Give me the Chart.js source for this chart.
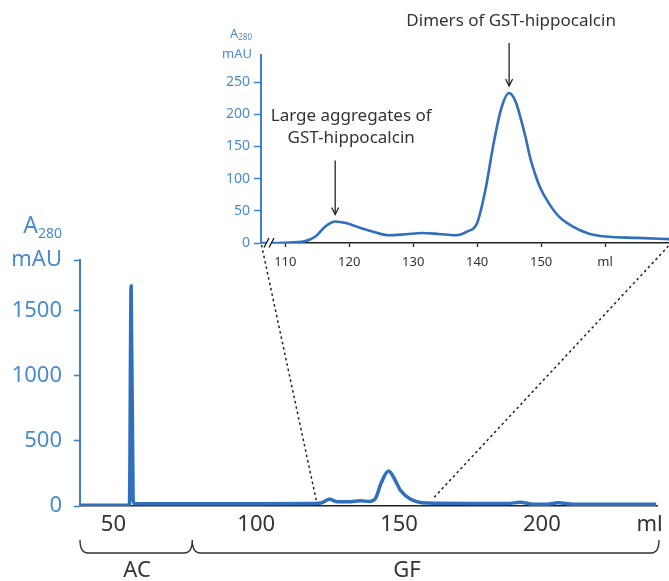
<!DOCTYPE html>
<html>
<head>
<meta charset="utf-8">
<script src="https://cdn.jsdelivr.net/npm/chart.js@4.4.1/dist/chart.umd.min.js"></script>
<style>
  html, body { margin: 0; padding: 0; background: #fff; }
  #wrap { position: relative; width: 669px; height: 581px; }
  #wrap canvas { position: absolute; }
</style>
</head>
<body>
<div id="wrap">
  <canvas id="mainChart" width="669" height="581" style="left:0;top:0"></canvas>
  <canvas id="insetChart" width="469" height="275" style="left:200px;top:0"></canvas>
</div>
<script>
// main chromatogram (AC + GF), ml vs mAU
var mainVolume = [38.3, 55.6, 56.2, 56.9, 57.6, 62, 80, 100, 120, 123, 125.6, 128.5, 133, 136.4, 139.8, 141.8, 143.8, 146.3, 148.6, 150.4, 153.9, 159.7, 175, 188, 192.4, 197, 202, 205.7, 211, 240];
var mainA280 = [5, 5, 1690, 40, 18, 18, 18, 18, 20, 25, 51, 33, 33, 40, 35, 60, 180, 268, 200, 123, 54, 23, 20, 20, 28, 13, 14, 25, 13, 13];
var mainTickValues = [50, 100, 150, 200, 237.7];
var mainTickLabels = ['50', '100', '150', '200', 'ml'];
var mainYTicks = [0, 500, 1000, 1500, 1890];

// inset: zoom on the GF peaks
var insetVolume = [106.2, 110, 113, 114.7, 116.3, 117.8, 119.5, 121, 123.6, 126.2, 128.8, 131.4, 134, 136.6, 138.5, 140, 141.3, 142.6, 143.8, 145, 146.0, 146.8, 147.6, 148.3, 149.1, 149.9, 151.2, 152.8, 154.9, 157.5, 160.1, 165, 170];
var insetA280 = [0, 0.5, 2.5, 10, 26, 33.5, 31, 26, 18, 12, 13.5, 15.5, 14, 12, 18, 31, 83, 156, 210, 233, 220, 194, 163, 132, 106, 85, 62, 41, 26, 14.5, 10, 8, 6];
var insetTickValues = [110, 120, 130, 140, 150, 160];
var insetTickLabels = ['110', '120', '130', '140', '150', 'ml'];
var insetYTicks = [0, 50, 100, 150, 200, 250];

// zoom window shown on main trace and brackets (ml)
var zoomFrom = 121, zoomTo = 162;
var acRange = [38.3, 77.6];
var gfRange = [77.6, 241];

var lineBlue = '#2f6fbd';
var axisBlue = '#3d80c8';
var textBlue = '#4a8bd0';
var dark = '#333333';
var fontName = "'Noto Sans', sans-serif";

function toPoints(xs, ys) {
    var pts = [];
    for (var i = 0; i < xs.length; i++) {
        pts.push({x: xs[i], y: ys[i]});
    }
    return pts;
}

var insetDecor = {
    id: 'insetDecor',
    afterDraw: function (chart) {
        var ctx = chart.ctx;
        var xs = chart.scales.x, ys = chart.scales.y;
        var area = chart.chartArea;
        ctx.save();
        // axis title
        ctx.fillStyle = textBlue;
        ctx.textAlign = 'right';
        ctx.textBaseline = 'middle';
        ctx.font = '13px ' + fontName;
        ctx.fillText('mAU', 52, 54);
        ctx.font = '8px ' + fontName;
        ctx.fillText('280', 52, 38);
        var w = ctx.measureText('280').width;
        ctx.font = '13px ' + fontName;
        ctx.fillText('A', 52 - w, 34);

        // axis break marks
        var bx = area.left + 5, by = area.bottom;
        ctx.fillStyle = '#fff';
        ctx.beginPath();
        ctx.moveTo(bx - 1, by + 4);
        ctx.lineTo(bx + 3, by - 4);
        ctx.lineTo(bx + 7, by - 4);
        ctx.lineTo(bx + 3, by + 4);
        ctx.closePath();
        ctx.fill();
        ctx.strokeStyle = '#222';
        ctx.lineWidth = 1.4;
        ctx.beginPath();
        ctx.moveTo(bx - 2, by + 4.5);
        ctx.lineTo(bx + 3, by - 5);
        ctx.moveTo(bx + 3, by + 4.5);
        ctx.lineTo(bx + 8, by - 5);
        ctx.stroke();

        // annotations with arrows
        ctx.fillStyle = dark;
        ctx.strokeStyle = '#222';
        ctx.lineWidth = 1.3;
        ctx.textAlign = 'center';
        ctx.font = '17px ' + fontName;
        var notes = [
            {x: 117.8, y: 33.5, len: 54, lines: ['Large aggregates of', 'GST-hippocalcin'], dx: 16},
            {x: 145, y: 233, len: 43, lines: ['Dimers of GST-hippocalcin'], dx: 2}
        ];
        notes.forEach(function (n) {
            var px = xs.getPixelForValue(n.x);
            var tip = ys.getPixelForValue(n.y) - 7;
            var tail = tip - n.len;
            ctx.beginPath();
            ctx.moveTo(px, tail);
            ctx.lineTo(px, tip);
            ctx.stroke();
            ctx.beginPath();
            ctx.moveTo(px - 3.5, tip - 7);
            ctx.lineTo(px, tip);
            ctx.lineTo(px + 3.5, tip - 7);
            ctx.stroke();
            for (var i = 0; i < n.lines.length; i++) {
                var ly = tail - 22 - (n.lines.length - 1 - i) * 22;
                ctx.fillText(n.lines[i], px + n.dx, ly);
            }
        });
        ctx.restore();
    }
};

var insetChart = new Chart(document.getElementById('insetChart'), {
    type: 'line',
    data: {
        datasets: [{
            data: toPoints(insetVolume, insetA280),
            borderColor: lineBlue,
            borderWidth: 2.6,
            pointRadius: 0,
            cubicInterpolationMode: 'monotone',
            fill: false
        }]
    },
    options: {
        responsive: false,
        animation: false,
        layout: {padding: {top: 55, left: 0, right: 0, bottom: 0}},
        plugins: {legend: {display: false}, tooltip: {enabled: false}},
        scales: {
            x: {
                type: 'linear',
                min: 106.2,
                max: 170,
                afterBuildTicks: function (s) {
                    s.ticks = insetTickValues.map(function (v) { return {value: v}; });
                },
                afterFit: function (s) { s.height = 32; },
                border: {color: '#222', width: 1.5},
                grid: {drawOnChartArea: false, tickLength: 4, tickColor: '#222', tickWidth: 1.3},
                ticks: {
                    autoSkip: false,
                    maxRotation: 0,
                    padding: 7,
                    color: dark,
                    font: {family: fontName, size: 13},
                    callback: function (v) {
                        var i = insetTickValues.indexOf(v);
                        return i >= 0 ? insetTickLabels[i] : '';
                    }
                }
            },
            y: {
                min: 0,
                max: 292,
                afterBuildTicks: function (s) {
                    s.ticks = insetYTicks.map(function (v) { return {value: v}; });
                },
                afterFit: function (s) { s.width = 61; },
                border: {color: axisBlue, width: 2},
                grid: {drawOnChartArea: false, tickLength: 7, tickColor: axisBlue, tickWidth: 1.5},
                ticks: {
                    padding: 4,
                    color: textBlue,
                    font: {family: fontName, size: 14}
                }
            }
        }
    },
    plugins: [insetDecor]
});

var mainDecor = {
    id: 'mainDecor',
    afterDraw: function (chart) {
        var ctx = chart.ctx;
        var xs = chart.scales.x, ys = chart.scales.y;
        ctx.save();
        // y axis title
        ctx.fillStyle = textBlue;
        ctx.textAlign = 'right';
        ctx.textBaseline = 'middle';
        ctx.font = '22px ' + fontName;
        ctx.fillText('mAU', 62, 260);
        ctx.font = '14px ' + fontName;
        ctx.fillText('280', 62, 234);
        var w = ctx.measureText('280').width;
        ctx.font = '23px ' + fontName;
        ctx.fillText('A', 62 - w, 226);

        // dotted connectors to the inset
        var ia = insetChart.chartArea;
        var offX = 200, offY = 0;
        ctx.strokeStyle = '#222';
        ctx.lineWidth = 1.5;
        ctx.setLineDash([2.5, 3]);
        ctx.beginPath();
        ctx.moveTo(offX + ia.left + 0.5, offY + ia.bottom + 2);
        ctx.lineTo(xs.getPixelForValue(zoomFrom), ys.getPixelForValue(45));
        ctx.moveTo(offX + ia.right - 0.5, offY + ia.bottom + 3);
        ctx.lineTo(xs.getPixelForValue(zoomTo), ys.getPixelForValue(60));
        ctx.stroke();
        ctx.setLineDash([]);

        // brackets for AC and GF
        var top = 540, bot = 553, r = 8;
        var x0 = xs.getPixelForValue(acRange[0]);
        var xm = xs.getPixelForValue(acRange[1]);
        var x1 = xs.getPixelForValue(gfRange[1]);
        ctx.strokeStyle = '#333';
        ctx.lineWidth = 1.4;
        ctx.beginPath();
        ctx.moveTo(x0, top);
        ctx.quadraticCurveTo(x0, bot, x0 + r, bot);
        ctx.lineTo(xm - r, bot);
        ctx.quadraticCurveTo(xm, bot, xm, top);
        ctx.quadraticCurveTo(xm, bot, xm + r, bot);
        ctx.lineTo(x1 - r, bot);
        ctx.quadraticCurveTo(x1, bot, x1, top);
        ctx.stroke();

        ctx.fillStyle = dark;
        ctx.textAlign = 'center';
        ctx.font = '22px ' + fontName;
        ctx.fillText('AC', (x0 + xm) / 2 + 1, 571);
        ctx.fillText('GF', xm + 0.46 * (x1 - xm), 571);
        ctx.restore();
    }
};

var mainChart = new Chart(document.getElementById('mainChart'), {
    type: 'line',
    data: {
        datasets: [{
            data: toPoints(mainVolume, mainA280),
            borderColor: lineBlue,
            borderWidth: 3.5,
            pointRadius: 0,
            cubicInterpolationMode: 'monotone',
            fill: false
        }]
    },
    options: {
        responsive: false,
        animation: false,
        layout: {padding: {top: 260, left: 0, right: 12, bottom: 0}},
        plugins: {legend: {display: false}, tooltip: {enabled: false}},
        scales: {
            x: {
                type: 'linear',
                min: 38.3,
                max: 240.3,
                afterBuildTicks: function (s) {
                    s.ticks = mainTickValues.map(function (v) { return {value: v}; });
                },
                afterFit: function (s) { s.height = 75; },
                border: {color: '#222', width: 1.6},
                grid: {drawOnChartArea: false, tickLength: 4, tickColor: 'rgba(0,0,0,0)'},
                ticks: {
                    autoSkip: false,
                    maxRotation: 0,
                    padding: 2,
                    color: dark,
                    font: {family: fontName, size: 22},
                    callback: function (v) {
                        var i = mainTickValues.indexOf(v);
                        return i >= 0 ? mainTickLabels[i] : '';
                    }
                }
            },
            y: {
                min: 0,
                max: 1890,
                afterBuildTicks: function (s) {
                    s.ticks = mainYTicks.map(function (v) { return {value: v}; });
                },
                afterFit: function (s) { s.width = 80; },
                border: {color: axisBlue, width: 2},
                grid: {drawOnChartArea: false, tickLength: 6, tickColor: axisBlue, tickWidth: 1.6},
                ticks: {
                    padding: 12,
                    color: textBlue,
                    font: {family: fontName, size: 22},
                    callback: function (v) { return v % 500 === 0 ? v : ''; }
                }
            }
        }
    },
    plugins: [mainDecor]
});
</script>
</body>
</html>
